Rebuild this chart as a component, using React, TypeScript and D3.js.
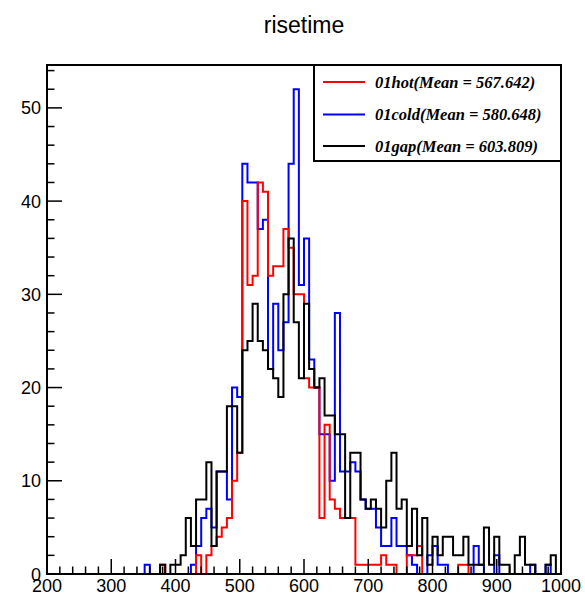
import React from "react";
import * as d3 from "d3";

// bin width 8, 100 bins from 200 to 1000
const binStart = 200;
const binWidth = 8;
const nBins = 100;

const hotValues = [
  0,0,0,0,0,0,0,0,0,0, 0,0,0,0,0,0,0,0,0,0,
  0,0,1,0,0,0,0,0,0,2, 0,2,3,4,5,6,10,13,40,31,
  32,42,41,32,33,33,37,35,30,30, 21,20,20,6,16,8,7,6,6,6,
  1,1,1,1,1,2,1,1,0,0, 2,2,3,0,0,0,0,0,0,0,
  1,1,0,0,0,0,0,0,0,0, 0,0,0,0,0,0,0,0,0,0,
];
const coldValues = [
  0,0,0,0,0,0,0,0,0,0, 0,0,0,0,0,0,0,0,0,1,
  0,0,0,0,0,0,0,0,1,3, 6,7,5,11,11,8,20,19,44,42,
  42,37,38,22,29,24,27,44,52,31, 36,23,20,15,15,10,28,11,11,12,
  11,8,7,7,5,3,3,6,3,3, 2,1,0,0,2,3,1,1,0,0,
  0,0,0,3,1,0,0,2,0,0, 0,0,0,0,1,0,0,1,0,0,
];
const gapValues = [
  0,0,0,0,0,0,0,0,0,0, 0,0,0,0,0,0,0,0,0,0,
  0,0,1,0,1,1,2,6,3,8, 8,12,3,11,11,18,18,13,24,25,
  29,25,24,22,21,19,30,36,27,21, 29,22,20,21,17,17,15,15,6,13,
  13,8,7,8,7,5,10,13,7,8, 3,7,2,6,1,4,2,4,4,2,
  2,4,1,1,1,5,1,4,1,1, 0,2,4,1,1,0,0,1,2,0,
];

const seriesNames = ["01hot(Mean = 567.642)", "01cold(Mean = 580.648)", "01gap(Mean = 603.809)"];
const seriesColors = ["#ff0000", "#0000ff", "#000000"];

const xTickLabels = [200, 300, 400, 500, 600, 700, 800, 900, 1000];
const yTickLabels = [0, 10, 20, 30, 40, 50];
const title = "risetime";

const W = 585, H = 597;
const left = 47, right = 561, top = 65, bottom = 574;

export default function App() {
  const x = d3.scaleLinear().domain([200, 1000]).range([left, right]);
  const y = d3.scaleLinear().domain([0, 54.6]).range([bottom, top]);

  const makePath = (vals: number[]) => {
    const pts: [number, number][] = vals.map((v, i) => [binStart + i * binWidth, v]);
    pts.push([binStart + nBins * binWidth, vals[vals.length - 1]]);
    const line = d3.line<[number, number]>()
      .x(d => x(d[0]))
      .y(d => y(d[1]))
      .curve(d3.curveStepAfter);
    return line([[binStart, 0], ...pts, [binStart + nBins * binWidth, 0]]) || "";
  };

  const xMinor = d3.range(200, 1001, 20);
  const yMinor = d3.range(0, 54.6, 2);

  const series = [
    { vals: coldValues, color: seriesColors[1] },
    { vals: hotValues, color: seriesColors[0] },
    { vals: gapValues, color: seriesColors[2] },
  ];

  const legX = 314, legY = 65, legW = 247, legH = 96;
  const rowY = [82, 114.5, 146];

  return (
    <svg width={W} height={H} style={{ position: "absolute", left: 0, top: 0, background: "#fff" }}
      fontFamily="'Liberation Sans', Arial, Helvetica, sans-serif">
      <rect x={0} y={0} width={W} height={H} fill="#fff" />
      <text x={(left + right) / 2} y={33} textAnchor="middle" fontSize={23}>{title}</text>
      {series.map((s, i) => (
        <path key={i} d={makePath(s.vals)} fill="none" stroke={s.color} strokeWidth={2} />
      ))}
      {/* frame */}
      <rect x={left} y={top} width={right - left} height={bottom - top} fill="none" stroke="#000" strokeWidth={2} />
      {/* x ticks */}
      {xMinor.map(v => (
        <line key={"xm" + v} x1={x(v)} x2={x(v)} y1={bottom} y2={bottom - (v % 100 === 0 ? 15 : 7.5)} stroke="#000" strokeWidth={1.5} />
      ))}
      {yMinor.map(v => (
        <line key={"ym" + v} x1={left} x2={left + (v % 10 === 0 ? 15 : 7.5)} y1={y(v)} y2={y(v)} stroke="#000" strokeWidth={1.5} />
      ))}
      {xTickLabels.map(v => (
        <text key={"xl" + v} x={x(v)} y={592} textAnchor="middle" fontSize={18}>{v}</text>
      ))}
      {yTickLabels.map(v => (
        <text key={"yl" + v} x={41} y={y(v) + 6.5} textAnchor="end" fontSize={18}>{v}</text>
      ))}
      {/* legend */}
      <rect x={legX} y={legY} width={legW} height={legH} fill="#fff" stroke="#000" strokeWidth={2} />
      {seriesNames.map((n, i) => (
        <g key={n}>
          <line x1={323} x2={365} y1={rowY[i]} y2={rowY[i]} stroke={seriesColors[i]} strokeWidth={2} />
          <text x={375} y={rowY[i] + 5.5} fontSize={16.5} fontWeight="bold" fontStyle="italic"
            fontFamily="'Liberation Serif', 'Times New Roman', serif">{n}</text>
        </g>
      ))}
    </svg>
  );
}
